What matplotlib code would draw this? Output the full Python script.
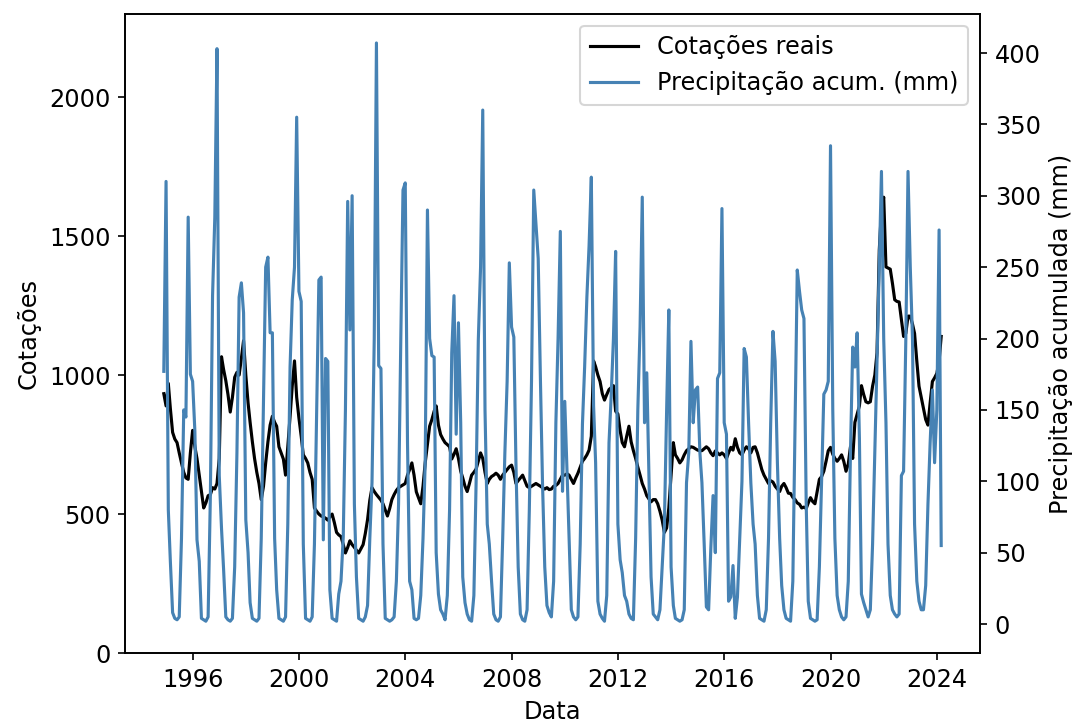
import matplotlib
matplotlib.use("Agg")
import matplotlib.pyplot as plt
import matplotlib.dates as mdates
import pandas as pd

plt.rcParams["font.size"] = 11.5

# serie mensal, de dez/1994 ate mar/2024
inicio = "1994-12-01"

# cotacoes reais (eixo esquerdo)
cotacoes = [
    933,                                                                  # 1994 dez
    889, 970, 880, 794, 770, 757, 720, 684, 650, 630, 625, 720,           # 1995
    801, 742, 700, 640, 580, 522, 540, 566, 570, 595, 590, 610,           # 1996
    700, 1066, 1021, 980, 930, 867, 920, 992, 1010, 1000, 1060, 1124,     # 1997
    1000, 900, 830, 760, 700, 650, 610, 552, 600, 684, 760, 820,          # 1998
    852, 830, 816, 742, 720, 698, 640, 742, 850, 960, 1051, 920,          # 1999
    845, 780, 713, 700, 684, 650, 625, 522, 510, 500, 493, 490,           # 2000
    485, 478, 490, 500, 470, 434, 425, 419, 390, 360, 380, 404,           # 2001
    390, 380, 370, 360, 375, 390, 430, 480, 550, 595, 581, 570,           # 2002
    560, 550, 537, 515, 493, 520, 552, 570, 585, 595, 600, 605,           # 2003
    610, 640, 660, 684, 640, 580, 559, 537, 600, 684, 750, 816,           # 2004
    840, 870, 889, 820, 786, 770, 757, 750, 742, 698, 715, 735,           # 2005
    700, 654, 630, 600, 581, 610, 640, 650, 662, 690, 720, 700,           # 2006
    650, 610, 625, 635, 640, 647, 640, 625, 640, 650, 660, 670,           # 2007
    676, 650, 610, 620, 630, 640, 620, 600, 595, 600, 605, 610,           # 2008
    605, 600, 595, 590, 595, 588, 590, 600, 603, 610, 625, 640,           # 2009
    640, 645, 640, 625, 610, 630, 647, 669, 690, 700, 713, 730,           # 2010
    780, 1051, 1030, 1000, 977, 933, 910, 930, 948, 955, 962, 870,       # 2011
    860, 800, 757, 742, 780, 816, 760, 728, 700, 669, 640, 610,           # 2012
    590, 566, 555, 544, 552, 552, 537, 510, 478, 434, 450, 522,           # 2013
    640, 757, 713, 700, 684, 695, 713, 728, 735, 742, 740, 735,           # 2014
    730, 728, 728, 735, 742, 735, 720, 710, 727, 720, 713, 720,           # 2015
    713, 700, 720, 740, 730, 771, 740, 720, 713, 730, 742, 735,           # 2016
    720, 740, 742, 720, 690, 660, 640, 625, 610, 620, 615, 600,           # 2017
    590, 581, 600, 610, 595, 575, 574, 560, 552, 540, 535, 522,           # 2018
    525, 520, 540, 559, 545, 537, 580, 625, 635, 654, 690, 728,           # 2019
    740, 715, 700, 690, 700, 713, 690, 654, 680, 742, 700, 830,           # 2020
    860, 889, 962, 930, 904, 900, 904, 960, 1000, 1080, 1450, 1594,       # 2021
    1640, 1389, 1385, 1381, 1330, 1271, 1265, 1263, 1200, 1139, 1150, 1212,  # 2022
    1212, 1183, 1150, 1050, 960, 919, 880, 840, 820, 900, 977, 990,       # 2023
    1006, 1050, 1139,                                                     # 2024
]

# precipitacao acumulada mensal em mm (eixo direito)
precipitacao = [
    177,                                                                  # 1994 dez
    310, 80, 44, 8, 4, 3, 5, 60, 150, 145, 285, 175,                      # 1995
    170, 135, 59, 44, 4, 3, 2, 5, 90, 230, 285, 403,                      # 1996
    104, 67, 39, 5, 3, 2, 4, 40, 120, 229, 239, 218,                      # 1997
    73, 50, 15, 4, 3, 2, 4, 60, 156, 250, 257, 204,                       # 1998
    204, 60, 24, 4, 3, 2, 5, 70, 180, 227, 250, 355,                      # 1999
    233, 226, 56, 4, 3, 2, 5, 56, 150, 241, 243, 59,                      # 2000
    186, 184, 24, 4, 3, 2, 21, 30, 61, 150, 296, 206,                     # 2001
    300, 84, 33, 4, 3, 2, 5, 13, 60, 99, 200, 407,                        # 2002
    181, 179, 56, 4, 3, 2, 3, 5, 30, 84, 200, 304,                        # 2003
    309, 127, 30, 24, 4, 3, 4, 20, 60, 113, 290, 200,                     # 2004
    188, 187, 50, 21, 10, 7, 3, 20, 80, 190, 230, 133,                    # 2005
    211, 141, 33, 15, 7, 3, 2, 20, 100, 199, 250, 360,                    # 2006
    150, 70, 56, 30, 7, 3, 2, 5, 60, 120, 170, 253,                       # 2007
    208, 201, 113, 40, 7, 3, 2, 10, 80, 170, 304, 280,                    # 2008
    256, 170, 99, 40, 13, 8, 5, 30, 141, 200, 275, 93,                    # 2009
    156, 107, 60, 10, 5, 3, 5, 56, 140, 180, 229, 265,                    # 2010
    313, 153, 113, 16, 7, 4, 2, 20, 127, 160, 200, 261,                   # 2011
    70, 45, 36, 20, 16, 7, 4, 3, 60, 150, 208, 299,                       # 2012
    141, 176, 107, 33, 7, 5, 3, 10, 40, 70, 150, 220,                     # 2013
    40, 13, 4, 3, 2, 3, 10, 99, 120, 198, 141, 164,                       # 2014
    166, 120, 99, 56, 12, 10, 53, 90, 50, 172, 176, 291,                  # 2015
    141, 133, 16, 19, 41, 4, 19, 60, 100, 193, 187, 141,                  # 2016
    99, 70, 56, 20, 4, 3, 2, 10, 60, 141, 205, 184,                       # 2017
    113, 60, 27, 10, 4, 3, 2, 30, 141, 248, 233, 220,                     # 2018
    214, 84, 16, 4, 3, 2, 3, 40, 100, 161, 164, 170,                      # 2019
    335, 150, 60, 20, 10, 5, 3, 5, 30, 120, 194, 180,                     # 2020
    204, 130, 21, 15, 10, 5, 10, 56, 120, 184, 250, 317,                  # 2021
    200, 141, 56, 20, 10, 7, 5, 7, 104, 107, 200, 317,                    # 2022
    250, 199, 70, 30, 16, 10, 10, 27, 84, 127, 164, 113,                  # 2023
    150, 276, 55,                                                         # 2024
]

datas = pd.date_range(inicio, periods=len(cotacoes), freq="MS")

fig, ax1 = plt.subplots(figsize=(7.18, 4.827), dpi=150)
fig.subplots_adjust(left=0.116, right=0.91, bottom=0.098, top=0.981)

l1, = ax1.plot(datas, cotacoes, color="black", label="Cotações reais")
ax1.set_xlabel("Data")
ax1.set_ylabel("Cotações")
ax1.set_ylim(0, 2300)

ax2 = ax1.twinx()
l2, = ax2.plot(datas, precipitacao, color="steelblue",
               label="Precipitação acum. (mm)")
ax2.set_ylabel("Precipitação acumulada (mm)")
ax2.set_ylim(-20.3, 427.5)

ax1.xaxis.set_major_locator(mdates.YearLocator(4))
ax1.xaxis.set_major_formatter(mdates.DateFormatter("%Y"))

ax2.legend([l1, l2], [l1.get_label(), l2.get_label()], loc="upper right")

fig.savefig("out.png", dpi=150)
